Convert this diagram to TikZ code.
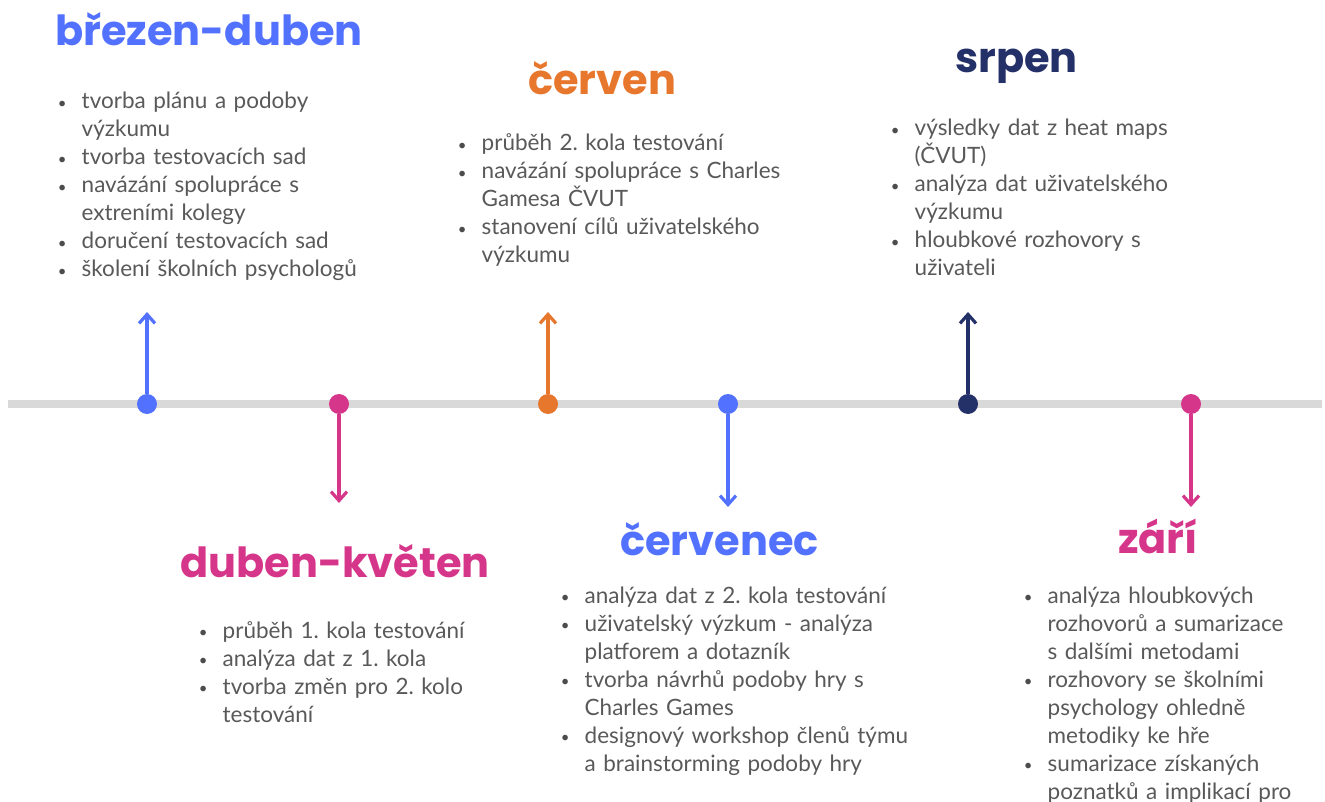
\documentclass[tikz,border=0pt]{standalone}
\usepackage{fontspec}
\setmainfont{Lato}
\newfontfamily\monthfont{Poppins}
\usetikzlibrary{arrows.meta}
\frenchspacing

\definecolor{tlblue}{HTML}{5271FF}
\definecolor{tlpink}{HTML}{D6368A}
\definecolor{tlorange}{HTML}{E8772E}
\definecolor{tlnavy}{HTML}{243068}
\definecolor{tlgray}{HTML}{D9D9D9}
\definecolor{txtgray}{HTML}{595959}

\newcommand{\bul}[1]{\par\noindent\hangindent=19.5pt\hangafter=1%
  \makebox[0pt][c]{\raisebox{0.5pt}{\color{black!70}\fontsize{15}{15}\selectfont\textbullet}}\hspace{19.5pt}#1\par}

\begin{document}
\begin{tikzpicture}[x=1pt,y=-1pt,
    tdot/.style={circle, fill=#1, minimum size=20pt, inner sep=0pt},
    arr/.style={draw=#1, line width=3.2pt, -{Straight Barb[length=9pt,width=16pt,line width=3.2pt]}},
    month/.style={anchor=base west, inner sep=0pt, text=#1,
      font=\monthfont\bfseries\fontsize{41.5}{44}\selectfont},
    tasks/.style={anchor=base west, inner sep=0pt, text=txtgray, text width=#1,
      align=left, font=\fontsize{22.5}{28}\selectfont}]
  \useasboundingbox (0,0) rectangle (1325,802);

  % timeline
  \coordinate (lstart) at (8,404);
  \coordinate (lend) at (1322,404);
  \draw[line width=8pt, tlgray] (lstart) -- (lend);

  \node[tdot=tlblue] (brezen) at (147,404) {};
  \node[tdot=tlpink] (kveten) at (339,404) {};
  \node[tdot=tlorange] (cerven) at (548,404) {};
  \node[tdot=tlblue] (cervenec) at (728,404) {};
  \node[tdot=tlnavy] (srpen) at (968,404) {};
  \node[tdot=tlpink] (zari) at (1191,404) {};

  \coordinate (brezenTip) at (147,312);
  \coordinate (kvetenTip) at (339,503);
  \coordinate (cervenTip) at (548,312);
  \coordinate (cervenecTip) at (728,507);
  \coordinate (srpenTip) at (968,312);
  \coordinate (zariTip) at (1191,507);

  \draw[arr=tlblue] (brezen) -- (brezenTip);
  \draw[arr=tlpink] (kveten) -- (kvetenTip);
  \draw[arr=tlorange] (cerven) -- (cervenTip);
  \draw[arr=tlblue] (cervenec) -- (cervenecTip);
  \draw[arr=tlnavy] (srpen) -- (srpenTip);
  \draw[arr=tlpink] (zari) -- (zariTip);

  % months
  \node[month=tlblue] (brezenT) at (55,46) {březen-duben};
  \node[month=tlpink] (kvetenT) at (180,577) {duben-květen};
  \node[month=tlorange] (cervenT) at (528,95) {červen};
  \node[month=tlblue] (cervenecT) at (620,555) {červenec};
  \node[month=tlnavy] (srpenT) at (955,73) {srpen};
  \node[month=tlpink] (zariT) at (1118,553) {září};

  % tasks
  \node[tasks=340pt] (brezenL) at (62,81) {%
    \bul{tvorba plánu a podoby\newline výzkumu}
    \bul{tvorba testovacích sad}
    \bul{navázání spolupráce s\newline extreními kolegy}
    \bul{doručení testovacích sad}
    \bul{školení školních psychologů}};
  \node[tasks=340pt] (kvetenL) at (203,610) {%
    \bul{průběh 1. kola testování}
    \bul{analýza dat z 1. kola}
    \bul{tvorba změn pro 2. kolo\newline testování}};
  \node[tasks=360pt] (cervenL) at (462,123) {%
    \bul{průběh 2. kola testování}
    \bul{navázání spolupráce s Charles\newline Gamesa ČVUT}
    \bul{stanovení cílů uživatelského\newline výzkumu}};
  \node[tasks=380pt] (cervenecL) at (565,575) {%
    \bul{analýza dat z 2. kola testování}
    \bul{uživatelský výzkum - analýza\newline platforem a dotazník}
    \bul{tvorba návrhů podoby hry s\newline Charles Games}
    \bul{designový workshop členů týmu\newline a brainstorming podoby hry}};
  \node[tasks=340pt] (srpenL) at (895,108) {%
    \bul{výsledky dat z heat maps\newline (ČVUT)}
    \bul{analýza dat uživatelského\newline výzkumu}
    \bul{hloubkové rozhovory s\newline uživateli}};
  \node[tasks=290pt] (zariL) at (1028,575) {%
    \bul{analýza hloubkových\newline rozhovorů a sumarizace\newline s dalšími metodami}
    \bul{rozhovory se školními\newline psychology ohledně\newline metodiky ke hře}
    \bul{sumarizace získaných\newline poznatků a implikací pro}};
\end{tikzpicture}
\end{document}
